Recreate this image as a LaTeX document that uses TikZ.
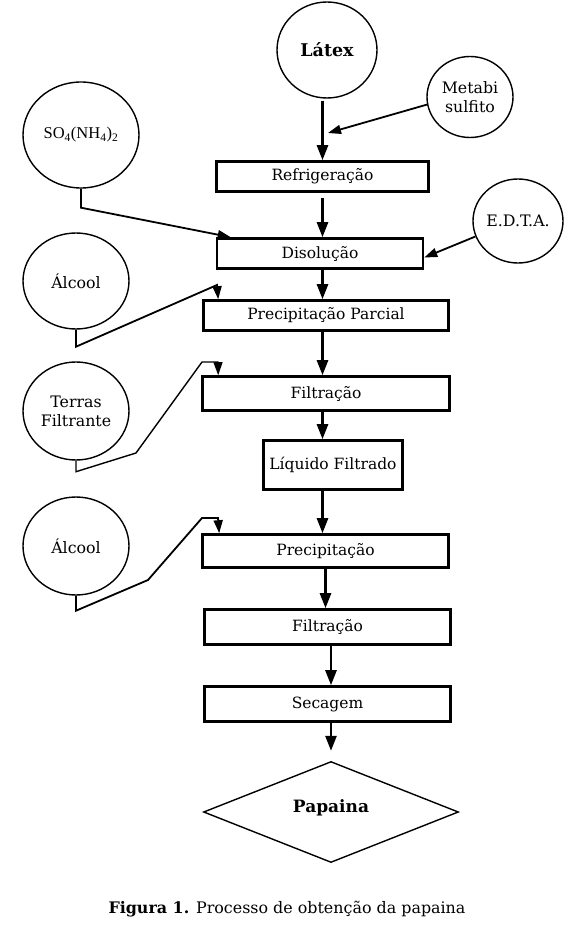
\documentclass[tikz,border=0pt]{standalone}
\usepackage{fontspec}
\setmainfont{DejaVu Serif}
\newfontfamily\timesfont{Liberation Serif}
\usetikzlibrary{positioning}
\usetikzlibrary{arrows.meta}
\usetikzlibrary{shapes.geometric}
\tikzset{%
  stepbox/.style={rectangle, draw=black, line width=2.6pt, inner sep=0pt, font=\fontsize{15.5}{18}\selectfont},
  inbubble/.style={ellipse, draw=black, line width=1.4pt, inner sep=0pt, align=center, font=\fontsize{15.8}{19}\selectfont},
  flowedge/.style={line width=2.6pt, -{Triangle[length=15pt,width=11pt]}},
  feededge/.style={line width=1.8pt, -{Triangle[length=13pt,width=9pt]}}
}

\begin{document}
\begin{tikzpicture}[x=1pt, y=-1pt]
  \useasboundingbox (0,0) rectangle (565,925);
  % main line
  \node[inbubble, minimum width=100pt, minimum height=96pt, font=\fontsize{17.5}{20}\selectfont\bfseries] (latex) at (327,50) {Látex};
  \node[stepbox, minimum width=212pt, minimum height=30pt] (refrig) at (322.5,176.5) {Refrigeração};
  \node[stepbox, minimum width=206pt, minimum height=30pt] (disol) at (320,253.5) {Disolução};
  \node[stepbox, minimum width=245pt, minimum height=30pt] (pparc) at (326,315.5) {Precipitação Parcial};
  \node[stepbox, minimum width=247pt, minimum height=34pt] (filt1) at (326,393.5) {Filtração};
  \node[stepbox, minimum width=139pt, minimum height=49pt] (liq) at (333,465) {Líquido Filtrado};
  \node[stepbox, minimum width=246pt, minimum height=33pt] (precip) at (325.5,551) {Precipitação};
  \node[stepbox, minimum width=246pt, minimum height=35pt] (filt2) at (327.5,627) {Filtração};
  \node[stepbox, minimum width=246pt, minimum height=35pt] (secag) at (327.5,704) {Secagem};
  \node[diamond, draw=black, line width=1.4pt, inner sep=0pt, minimum width=255pt, minimum height=98pt, font=\fontsize{17}{20}\selectfont\bfseries] (papaina) at (331,812) {\raisebox{12pt}{Papaina}};
  % inputs
  \node[inbubble, minimum width=86pt, minimum height=81pt] (metabi) at (470,97) {Metabi\\sulfito};
  \node[inbubble, minimum width=116pt, minimum height=106pt, font=\timesfont\fontsize{16.5}{19}\selectfont] (so4) at (81,135) {SO\textsubscript{4}(NH\textsubscript{4})\textsubscript{2}};
  \node[inbubble, minimum width=90pt, minimum height=84pt] (edta) at (518,221) {E.D.T.A.};
  \node[inbubble, minimum width=106pt, minimum height=96pt] (alcool1) at (76,281) {Álcool};
  \node[inbubble, minimum width=106pt, minimum height=98pt] (terras) at (76,411) {Terras\\Filtrante};
  \node[inbubble, minimum width=106pt, minimum height=98pt] (alcool2) at (76,546) {Álcool};

  \draw [flowedge] ([yshift=-2pt]latex.south -| refrig) -- (refrig.north);
  \draw [flowedge] ([yshift=-5pt]refrig.south) -- (refrig.south |- disol.north);
  \draw [flowedge] (disol.south -| refrig) -- (pparc.north -| refrig);
  \draw [flowedge] (pparc.south -| refrig) -- (filt1.north -| refrig);
  \draw [flowedge] (filt1.south -| refrig) -- (liq.north -| refrig);
  \draw [flowedge] (liq.south -| refrig) -- (precip.north -| refrig);
  \draw [flowedge] (precip.south) -- (precip.south |- filt2.north);
  \draw [flowedge] (filt2.south -| papaina) -- (secag.north -| papaina);
  \coordinate [above=10pt] (P) at (papaina.north);
  \draw [flowedge] (secag.south -| papaina) -- (P);

  \coordinate (M) at (328,133);
  \draw [feededge] (metabi.190) -- (M);
  \coordinate [right=8pt, below=4pt] (E) at (disol.east);
  \draw [feededge] (edta.200) -- (E);
  \coordinate [right=15pt] (S) at (disol.north west);
  \draw [feededge] (so4.south) -- ++(0,19) -- (S);
  \coordinate [right=16pt] (A) at (pparc.north west);
  \draw [feededge] (alcool1.south) -- ++(0,17) -- (217,285) -- (A);
  \coordinate [right=17pt] (T) at (filt1.north west);
  \draw [feededge, line width=1.4pt] (terras.south) -- ++(0,11) -- (136,453) -- (202,362) -- (218,362) -- (T);
  \coordinate [right=18pt] (B) at (precip.north west);
  \draw [feededge] (alcool2.south) -- ++(0,15) -- (148,580) -- (202,518) -- (218,518) -- (B);

  \node[font=\fontsize{15.9}{19}\selectfont] (caption) at (287,909) {\textbf{Figura 1.} Processo de obtenção da papaina};
\end{tikzpicture}
\end{document}
